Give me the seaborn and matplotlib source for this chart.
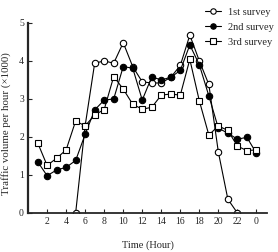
import matplotlib
matplotlib.use("Agg")
import matplotlib.pyplot as plt
import numpy as np
import pandas as pd
import seaborn as sns

# Hours of the day (24 shown as 0)
hours = list(range(1, 25))
nan = np.nan
survey1 = [nan, nan, nan, nan, 0.0, 2.3, 3.94, 4.0, 3.94, 4.48, 3.85, 3.45,
           3.42, 3.42, 3.57, 3.88, 4.68, 4.0, 3.38, 1.6, 0.36, 0.0, nan, nan]
survey2 = [1.35, 0.98, 1.13, 1.2, 1.38, 2.07, 2.71, 2.97, 3.0, 3.85, 3.81, 2.97,
           3.58, 3.5, 3.57, 3.75, 4.42, 3.9, 3.08, 2.23, 2.1, 1.94, 1.99, 1.57]
survey3 = [1.85, 1.25, 1.44, 1.66, 2.42, 2.29, 2.58, 2.72, 3.59, 3.26, 2.86, 2.73,
           2.78, 3.1, 3.13, 3.1, 4.04, 2.95, 2.05, 2.29, 2.17, 1.76, 1.64, 1.66]
labels = ["1st survey", "2nd survey", "3rd survey"]
tick_pos = list(range(2, 25, 2))
tick_lab = [str(h % 24) for h in tick_pos]

sns.set_style("ticks")
plt.rcParams["font.family"] = ["Liberation Serif", "DejaVu Serif"]

fig = plt.figure(figsize=(2.78, 2.52), dpi=100)
ax = fig.add_axes([0.101, 0.155, 0.859, 0.754])

styles = [("o", "white"), ("o", "black"), ("s", "white")]
for vals, lab, (mk, fc) in zip([survey1, survey2, survey3], labels, styles):
    d = pd.DataFrame({"hour": hours, "v": vals}).dropna()
    sns.lineplot(data=d, x="hour", y="v", ax=ax, color="black", lw=0.8,
                 marker=mk, markersize=4.6, markerfacecolor=fc,
                 markeredgecolor="black", markeredgewidth=0.8, label=lab)

ax.set_xlim(0, 25.1)
ax.set_ylim(0, 5)
ax.set_xticks(tick_pos)
ax.set_xticklabels(tick_lab)
ax.set_yticks([0, 1, 2, 3, 4, 5])
ax.tick_params(direction="in", length=3, width=0.8, labelsize=7, pad=3)
sns.despine(ax=ax)
ax.spines["left"].set_linewidth(1.6)
ax.spines["bottom"].set_linewidth(1.3)
ax.set_xlabel("Time (Hour)", fontsize=7.5, labelpad=10)
ax.set_ylabel("Traffic volume per hour (\u00d71000)", fontsize=7.8)
ax.yaxis.set_label_coords(-0.07, 0.47)

leg = ax.legend(loc="upper left", bbox_to_anchor=(0.74, 1.08), frameon=False,
                fontsize=7.5, handlelength=1.6, handletextpad=0.6,
                labelspacing=0.55, borderaxespad=0, borderpad=0,
                markerscale=0.85)

fig.savefig("out.png", dpi=100)
